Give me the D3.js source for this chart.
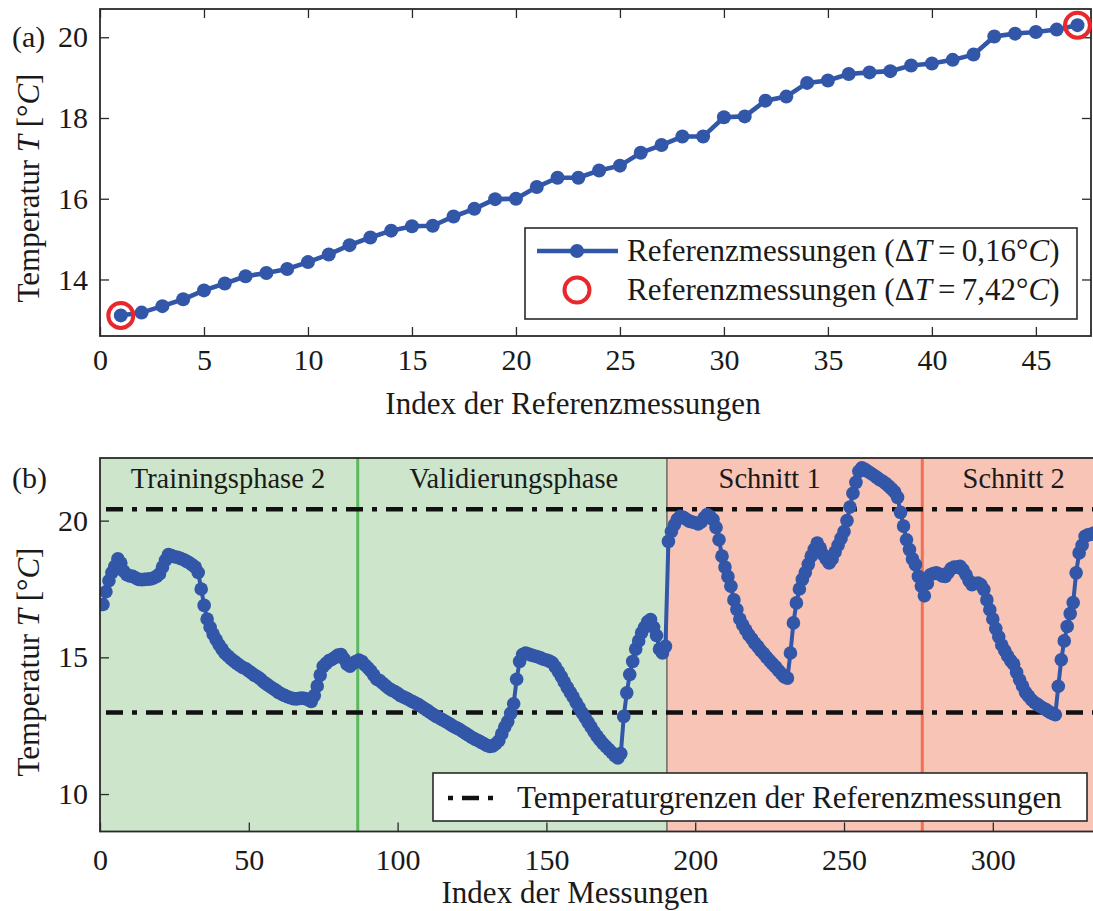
<!DOCTYPE html>
<html><head><meta charset="utf-8">
<script src="https://cdn.jsdelivr.net/npm/d3@7/dist/d3.min.js"></script>
<style>
body{margin:0;background:#fff}
text{font-family:"Liberation Serif","Times New Roman",serif;fill:#1a1a1a}
</style>
</head><body>
<svg id="c" width="1093" height="911"></svg>
<script>
// ---------- data ----------
const refIndex = d3.range(1, 48);
const refTemp = [13.11,13.18,13.34,13.51,13.73,13.90,14.08,14.16,14.26,14.43,
  14.62,14.85,15.04,15.21,15.32,15.33,15.56,15.75,15.99,16.00,
  16.29,16.52,16.52,16.70,16.82,17.14,17.33,17.54,17.54,18.02,
  18.04,18.43,18.53,18.87,18.93,19.09,19.13,19.16,19.30,19.35,
  19.44,19.57,20.02,20.09,20.13,20.19,20.30];
const outlierIdx = [1, 47];
const measTemp = [
  16.93,17.4,17.8,18.1,18.33,18.6,18.45,18.15,18.02,17.98,
  17.96,17.9,17.85,17.84,17.85,17.86,17.87,17.9,17.96,18.05,
  18.3,18.55,18.76,18.72,18.68,18.66,18.62,18.58,18.52,18.46,
  18.38,18.3,18.1,17.5,16.9,16.4,16.1,15.85,15.65,15.46,
  15.3,15.15,15.05,14.95,14.86,14.78,14.7,14.63,14.58,14.5,
  14.42,14.34,14.28,14.2,14.1,14.02,13.94,13.87,13.8,13.72,
  13.66,13.61,13.56,13.52,13.49,13.48,13.5,13.51,13.49,13.45,
  13.39,13.6,13.95,14.35,14.67,14.78,14.88,14.93,15.0,15.08,
  15.1,14.95,14.75,14.68,14.78,14.85,14.9,14.85,14.72,14.62,
  14.5,14.35,14.2,14.15,14.05,13.96,13.87,13.8,13.75,13.68,
  13.6,13.55,13.5,13.44,13.38,13.33,13.27,13.2,13.13,13.06,
  12.98,12.91,12.84,12.78,12.72,12.66,12.6,12.53,12.46,12.41,
  12.35,12.28,12.21,12.14,12.07,12.01,11.96,11.9,11.84,11.78,
  11.74,11.76,11.84,11.95,12.2,12.45,12.65,12.95,13.3,14.2,
  14.85,15.1,15.16,15.12,15.08,15.05,15.02,14.98,14.93,14.9,
  14.86,14.8,14.65,14.48,14.3,14.1,13.9,13.72,13.55,13.35,
  13.16,12.97,12.8,12.62,12.45,12.28,12.12,11.98,11.85,11.74,
  11.63,11.52,11.4,11.32,11.48,12.84,13.7,14.37,14.85,15.3,
  15.6,15.9,16.1,16.3,16.38,16.1,15.8,15.3,15.16,15.4,
  19.24,19.6,19.85,20.05,20.16,20.12,20.05,19.98,19.95,19.92,
  19.88,19.95,20.1,20.22,20.15,20.04,19.75,19.3,18.7,18.3,
  17.95,17.6,17.1,16.75,16.4,16.18,16.0,15.82,15.68,15.52,
  15.4,15.25,15.14,15.0,14.88,14.76,14.65,14.52,14.4,14.28,
  14.24,15.16,16.26,16.99,17.5,17.85,18.1,18.4,18.7,18.95,
  19.18,19.0,18.76,18.6,18.45,18.6,18.85,19.1,19.35,19.6,
  20.0,20.5,21.0,21.4,21.8,21.93,21.88,21.8,21.73,21.66,
  21.58,21.5,21.44,21.36,21.26,21.16,21.05,20.85,20.3,19.8,
  19.3,18.94,18.6,18.39,17.96,17.6,17.25,17.7,18.02,18.06,
  18.09,18.05,17.98,17.96,18.1,18.25,18.3,18.3,18.33,18.2,
  18.02,17.8,17.66,17.7,17.72,17.65,17.48,17.1,16.74,16.4,
  16.05,15.75,15.45,15.25,15.05,14.88,14.75,14.45,14.18,13.95,
  13.72,13.58,13.45,13.35,13.28,13.2,13.14,13.08,13.0,12.95,
  12.9,13.94,14.91,15.6,16.13,16.6,17.0,18.09,18.82,19.1,
  19.43,19.48,19.5,19.55];
const measIndex = d3.range(1, measTemp.length + 1);
const phaseNames = ["Trainingsphase 2", "Validierungsphase", "Schnitt 1", "Schnitt 2"];
const phaseLabelX = [43, 139, 225, 307];
const regionBounds = [0, 190.5, 334];        // green region, red region
const separators = [86.6, 276.3];            // green line, red line
const tempLimits = [12.98, 20.42];
const xTicksA = d3.range(0, 46, 5);
const yTicksA = [14, 16, 18, 20];
const xTicksB = d3.range(0, 301, 50);
const yTicksB = [10, 15, 20];
const legendA = ["Referenzmessungen (", "Referenzmessungen ("];
const legendAVals = ["0,16", "7,42"];
const legendB = "Temperaturgrenzen der Referenzmessungen";

// ---------- style ----------
const BLUE = "#3256a8", RED = "#e8282c", GREEN_BG = "#cde6cb", RED_BG = "#f8c4b6",
      GREEN_LN = "#5cb860", RED_LN = "#f07052", AX = "#2a2a2a";
const svg = d3.select("#c");

function frameAxes(g, x, y, W, H, opts) {
  const tick = 9;
  const bx = g.append("g").attr("transform", `translate(0,${H})`)
    .call(d3.axisBottom(x).tickValues(opts.xt).tickSizeInner(-tick).tickSizeOuter(0).tickPadding(opts.xpad));
  const ly = g.append("g")
    .call(d3.axisLeft(y).tickValues(opts.yt).tickSizeInner(-tick).tickSizeOuter(0).tickPadding(12));
  [bx, ly].forEach(a => {
    a.select(".domain").remove();
    a.selectAll("line").attr("stroke", AX).attr("stroke-width", 1.3);
    a.selectAll("text").attr("font-size", 30).attr("font-family", "Liberation Serif").attr("fill", "#1a1a1a");
  });
  if (opts.box) {
    const tx = g.append("g").call(d3.axisTop(x).tickValues(opts.xt).tickSizeInner(-tick).tickSizeOuter(0).tickFormat(""));
    const ry = g.append("g").attr("transform", `translate(${W},0)`)
      .call(d3.axisRight(y).tickValues(opts.yt).tickSizeInner(-tick).tickSizeOuter(0).tickFormat(""));
    [tx, ry].forEach(a => { a.select(".domain").remove(); a.selectAll("line").attr("stroke", AX).attr("stroke-width", 1.3); });
  }
  g.append("rect").attr("width", W).attr("height", H).attr("fill", "none")
    .attr("stroke", AX).attr("stroke-width", 1.8);
}

function tempLabel(sel, cx, cy) {
  const t = sel.append("text").attr("transform", `translate(${cx},${cy}) rotate(-90)`)
    .attr("text-anchor", "middle").attr("font-size", 31);
  t.append("tspan").text("Temperatur ");
  t.append("tspan").attr("font-style", "italic").text("T");
  t.append("tspan").text(" [°");
  t.append("tspan").attr("font-style", "italic").text("C");
  t.append("tspan").text("]");
}

// ---------- panel (a) ----------
{
  const L = 100, T = 9, W = 991, H = 327;
  const g = svg.append("g").attr("transform", `translate(${L},${T})`);
  const x = d3.scaleLinear().domain([0, 47.65]).range([0, W]);
  const y = d3.scaleLinear().domain([12.6, 20.7]).range([H, 0]);
  frameAxes(g, x, y, W, H, { xt: xTicksA, yt: yTicksA, box: true, xpad: 13 });
  const line = d3.line().x((d, i) => x(refIndex[i])).y(d => y(d));
  g.append("path").datum(refTemp).attr("d", line).attr("fill", "none")
    .attr("stroke", BLUE).attr("stroke-width", 4.6);
  g.selectAll("circle.pt").data(refTemp).join("circle").attr("class", "pt")
    .attr("cx", (d, i) => x(refIndex[i])).attr("cy", d => y(d)).attr("r", 7).attr("fill", BLUE);
  g.selectAll("circle.out").data(outlierIdx).join("circle").attr("class", "out")
    .attr("cx", d => x(d)).attr("cy", d => y(refTemp[d - 1])).attr("r", 12.5)
    .attr("fill", "none").attr("stroke", RED).attr("stroke-width", 4);

  // legend
  const lg = svg.append("g").attr("transform", "translate(525,228)");
  lg.append("rect").attr("width", 552).attr("height", 91).attr("fill", "#fff")
    .attr("stroke", AX).attr("stroke-width", 1.6);
  lg.append("line").attr("x1", 12).attr("x2", 93).attr("y1", 23).attr("y2", 23)
    .attr("stroke", BLUE).attr("stroke-width", 4.6);
  lg.append("circle").attr("cx", 52).attr("cy", 23).attr("r", 7).attr("fill", BLUE);
  lg.append("circle").attr("cx", 52).attr("cy", 62).attr("r", 12.5).attr("fill", "none")
    .attr("stroke", RED).attr("stroke-width", 4);
  legendA.forEach((s, i) => {
    const t = lg.append("text").attr("x", 102).attr("y", 33 + i * 39).attr("font-size", 31);
    t.append("tspan").text(s + "Δ");
    t.append("tspan").attr("font-style", "italic").text("T");
    t.append("tspan").text("\u2009=\u2009" + legendAVals[i] + "°");
    t.append("tspan").attr("font-style", "italic").text("C");
    t.append("tspan").text(")");
  });

  svg.append("text").attr("x", 12).attr("y", 47).attr("font-size", 30).text("(a)");
  tempLabel(svg, 39, 188);
  svg.append("text").attr("x", 573).attr("y", 414).attr("text-anchor", "middle")
    .attr("font-size", 31).text("Index der Referenzmessungen");
}

// ---------- panel (b) ----------
{
  const L = 100, T = 458, W = 994, H = 373.5;
  const g = svg.append("g").attr("transform", `translate(${L},${T})`);
  const x = d3.scaleLinear().domain([0, 334]).range([0, W]);
  const y = d3.scaleLinear().domain([8.63, 22.29]).range([H, 0]);
  svg.append("defs").append("clipPath").attr("id", "clipB")
    .append("rect").attr("width", W).attr("height", H);
  const pg = g.append("g").attr("clip-path", "url(#clipB)");
  const bgColors = [GREEN_BG, RED_BG];
  pg.selectAll("rect.bg").data([0, 1]).join("rect").attr("class", "bg")
    .attr("x", d => x(regionBounds[d])).attr("width", d => x(regionBounds[d + 1]) - x(regionBounds[d]))
    .attr("y", 0).attr("height", H).attr("fill", d => bgColors[d]);
  const sepColors = [GREEN_LN, RED_LN];
  pg.selectAll("line.sep").data(separators).join("line").attr("class", "sep")
    .attr("x1", d => x(d)).attr("x2", d => x(d)).attr("y1", 0).attr("y2", H)
    .attr("stroke", (d, i) => sepColors[i]).attr("stroke-width", 3);
  pg.append("line").attr("x1", x(regionBounds[1])).attr("x2", x(regionBounds[1]))
    .attr("y1", 0).attr("y2", H).attr("stroke", "#333").attr("stroke-width", 1);
  pg.selectAll("line.lim").data(tempLimits).join("line").attr("class", "lim")
    .attr("x1", 0).attr("x2", W).attr("y1", d => y(d)).attr("y2", d => y(d))
    .attr("stroke", "#111").attr("stroke-width", 4.5).attr("stroke-dasharray", "17,9,5,9")
    .attr("stroke-dashoffset", -6);
  const line = d3.line().x((d, i) => x(measIndex[i])).y(d => y(d));
  pg.append("path").datum(measTemp).attr("d", line).attr("fill", "none")
    .attr("stroke", BLUE).attr("stroke-width", 4);
  pg.selectAll("circle.pt").data(measTemp).join("circle").attr("class", "pt")
    .attr("cx", (d, i) => x(measIndex[i])).attr("cy", d => y(d)).attr("r", 6.8).attr("fill", BLUE);
  g.selectAll("text.ph").data(phaseNames).join("text").attr("class", "ph")
    .attr("x", (d, i) => x(phaseLabelX[i])).attr("y", 30).attr("text-anchor", "middle")
    .attr("font-size", 28.5).text(d => d);
  frameAxes(g, x, y, W, H, { xt: xTicksB, yt: yTicksB, box: false, xpad: 17 });

  const lg = svg.append("g").attr("transform", "translate(433,773)");
  lg.append("rect").attr("width", 654).attr("height", 48).attr("fill", "#fff")
    .attr("stroke", AX).attr("stroke-width", 1.6);
  lg.append("line").attr("x1", 15).attr("x2", 64).attr("y1", 25).attr("y2", 25)
    .attr("stroke", "#111").attr("stroke-width", 4.5).attr("stroke-dasharray", "5,9,17,9,5,100");
  lg.append("text").attr("x", 84).attr("y", 35).attr("font-size", 31).text(legendB);

  svg.append("text").attr("x", 12).attr("y", 488).attr("font-size", 30).text("(b)");
  tempLabel(svg, 39, 662);
  svg.append("text").attr("x", 575).attr("y", 903).attr("text-anchor", "middle")
    .attr("font-size", 31).text("Index der Messungen");
}
</script>
</body></html>
